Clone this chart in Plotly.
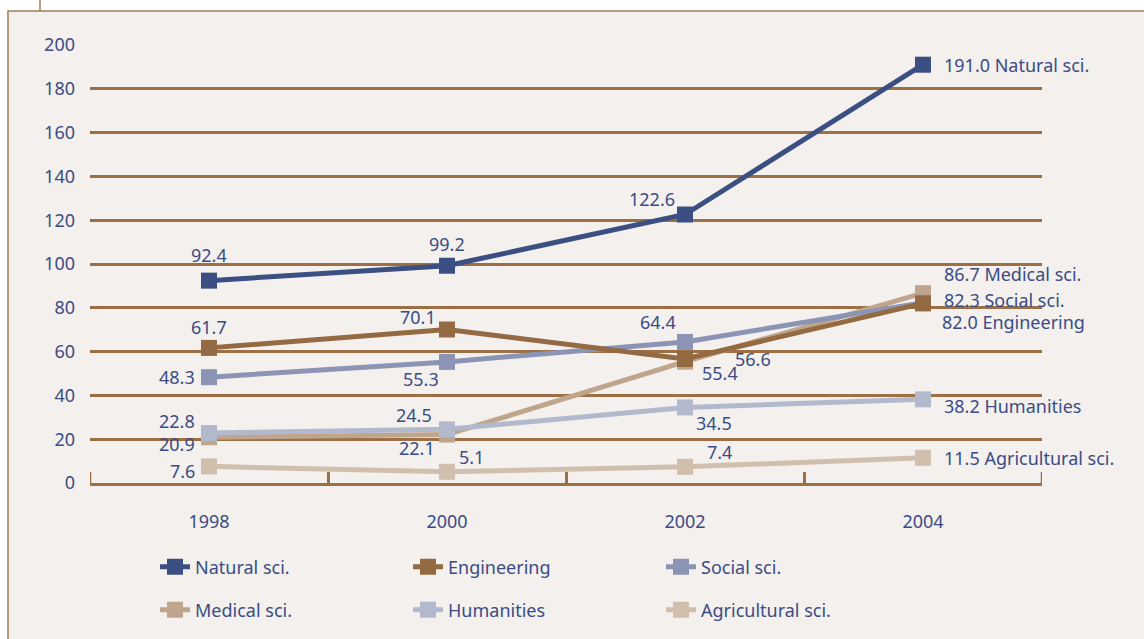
import plotly.graph_objects as go

# --- data -------------------------------------------------------------
years = ["1998", "2000", "2002", "2004"]

natural = [92.4, 99.2, 122.6, 191.0]
engineering = [61.7, 70.1, 56.6, 82.0]
social = [48.3, 55.3, 64.4, 82.3]
medical = [20.9, 22.1, 55.4, 86.7]
humanities = [22.8, 24.5, 34.5, 38.2]
agricultural = [7.6, 5.1, 7.4, 11.5]

y_ticks = [0, 20, 40, 60, 80, 100, 120, 140, 160, 180, 200]

# --- style ------------------------------------------------------------
TEXT = "#3b4c85"
GRID = "#9c6f45"
FONT = "Noto Sans"
FS = 18

# name, values, colour, legend, rank, per-point label offsets (xshift, yshift, xanchor)
series = [
    ("Agricultural sci.", agricultural, "#d1bfae", "legend2", 3,
     [(-12, -5, "right"), (10, 15, "left"), (20, 15, "left"), (19, 0, "left")]),
    ("Medical sci.", medical, "#c0a58d", "legend2", 1,
     [(-12, -7, "right"), (-10, -13, "right"), (15, -11, "left"), (19, 19, "left")]),
    ("Humanities", humanities, "#b2b9cd", "legend2", 2,
     [(-12, 12, "right"), (-13, 14, "right"), (9, -16, "left"), (19, -7, "left")]),
    ("Social sci.", social, "#8b94b4", "legend", 3,
     [(-12, 0, "right"), (-6, -17, "right"), (-7, 20, "right"), (19, 3, "left")]),
    ("Engineering", engineering, "#946a42", "legend", 2,
     [(0, 21, "center"), (-9, 12, "right"), (48, 0, "left"), (17, -19, "left")]),
    ("Natural sci.", natural, "#3c4f83", "legend", 1,
     [(0, 26, "center"), (0, 22, "center"), (-8, 16, "right"), (19, 0, "left")]),
]

fig = go.Figure()
annotations = []
for name, vals, color, leg, rank, offs in series:
    fig.add_trace(go.Scatter(
        x=years, y=vals, name=name, mode="lines+markers",
        line=dict(color=color, width=5),
        marker=dict(symbol="square", size=16, color=color),
        legend=leg, legendrank=rank, hoverinfo="skip",
    ))
    for i, v in enumerate(vals):
        dx, dy, anchor = offs[i]
        label = f"{v:.1f}"
        if i == len(years) - 1:
            label = f"{v:.1f} {name}"
        # category axis: annotations are placed by category index
        annotations.append(dict(
            x=i, y=v, xref="x", yref="y", text=label, showarrow=False,
            xanchor=anchor, yanchor="middle", xshift=dx, yshift=dy,
            font=dict(family=FONT, size=FS, color=TEXT),
        ))

# panel background and frame
W, H = 1144, 639
L, R, T, B = 90, 102, 45, 155
pw, ph = W - L - R, H - T - B


def px_x(p):
    return (p - L) / pw


def px_y(p):
    return (H - B - p) / ph


shapes = [
    dict(type="rect", xref="paper", yref="paper",
         x0=px_x(8), x1=px_x(1160), y0=px_y(11), y1=px_y(660),
         fillcolor="#f3f0ed", line=dict(color="#a47c55", width=1.5), layer="below"),
    dict(type="line", xref="paper", yref="paper",
         x0=px_x(40), x1=px_x(40), y0=px_y(-5), y1=px_y(11),
         line=dict(color="#a47c55", width=1.5), layer="below"),
]
# boundary ticks at both ends of the category axis
for edge in (-0.5, len(years) - 0.5):
    shapes.append(dict(
        type="line", xref="x", yref="paper", x0=edge, x1=edge,
        y0=0, y1=11 / ph, line=dict(color=GRID, width=2.5), layer="above",
    ))

legend_common = dict(
    orientation="h", xanchor="left", yanchor="middle",
    entrywidth=208, entrywidthmode="pixels",
    font=dict(family=FONT, size=FS, color=TEXT),
    bgcolor="rgba(0,0,0,0)", itemclick=False, itemdoubleclick=False,
)

fig.update_layout(
    width=W, height=H,
    margin=dict(l=L, r=R, t=T, b=B),
    paper_bgcolor="white", plot_bgcolor="rgba(0,0,0,0)",
    font=dict(family=FONT, size=FS, color=TEXT),
    showlegend=True,
    legend=dict(x=px_x(155), y=px_y(567), **legend_common),
    legend2=dict(x=px_x(155), y=px_y(610), **legend_common),
    xaxis=dict(
        type="category", range=[-0.5, 3.5], tickson="boundaries",
        ticks="inside", ticklen=11, tickwidth=2.5, tickcolor=GRID,
        showline=True, linecolor=GRID, linewidth=3,
        showgrid=False, ticklabelstandoff=20,
        tickfont=dict(family=FONT, size=FS, color=TEXT),
    ),
    yaxis=dict(
        range=[0, 200], tickvals=y_ticks, showgrid=True,
        gridcolor=GRID, gridwidth=2.5, zeroline=False, showline=False,
        ticks="", ticklabelstandoff=14,
        tickfont=dict(family=FONT, size=FS, color=TEXT),
    ),
    shapes=shapes,
    annotations=annotations,
)

fig.write_html("out.html")
